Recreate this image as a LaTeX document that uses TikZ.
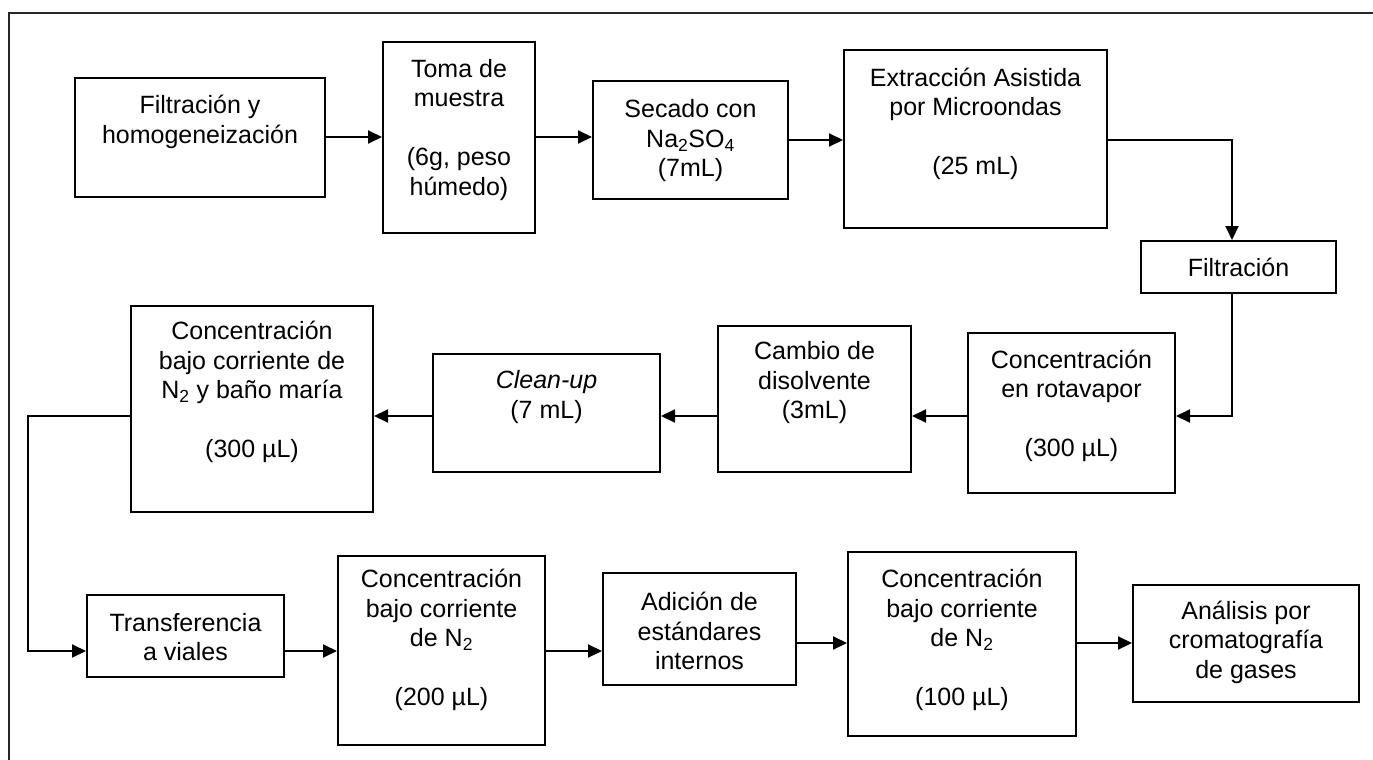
\documentclass[tikz,border=0pt]{standalone}
\usepackage{fontspec}
\setmainfont{Liberation Sans}
\usetikzlibrary{arrows.meta,calc}
\tikzset{
  stagebox/.style={draw=black, line width=2pt, inner sep=0pt, fill=white},
  stagetext/.style={align=center, inner sep=0pt, font=\fontsize{25}{29.5}\selectfont},
  arr/.style={draw=black, line width=2pt, -{Triangle[length=14pt,width=13pt]}},
  frameline/.style={draw=black!85, line width=2.2pt}
}
\begin{document}
\begin{tikzpicture}[x=1pt,y=-1pt]
\useasboundingbox (0,0) rectangle (1373,760);
\fill[white] (0,0) rectangle (1373,760);
\draw[frameline] (9,762) -- (9,13) -- (1375,13);

% boxes
\node[stagebox, minimum width=250pt, minimum height=119pt] (f1) at (200,137.5) {};
\node[stagebox, minimum width=152pt, minimum height=191pt] (toma) at (459,137.5) {};
\node[stagebox, minimum width=195pt, minimum height=118pt] (secado) at (690.5,140) {};
\node[stagebox, minimum width=263pt, minimum height=178pt] (extr) at (975.5,139) {};
\node[stagebox, minimum width=195pt, minimum height=52pt] (filt) at (1238.5,267) {};
\node[stagebox, minimum width=207pt, minimum height=160pt] (rot) at (1071.5,413) {};
\node[stagebox, minimum width=193pt, minimum height=146pt] (cambio) at (814.5,399) {};
\node[stagebox, minimum width=227pt, minimum height=118pt] (clean) at (546.5,413) {};
\node[stagebox, minimum width=242pt, minimum height=206pt] (bano) at (252,409) {};
\node[stagebox, minimum width=197pt, minimum height=82pt] (transf) at (185.5,636) {};
\node[stagebox, minimum width=207pt, minimum height=189pt] (cdos) at (441.5,650.5) {};
\node[stagebox, minimum width=193pt, minimum height=112pt] (adic) at (699.5,629) {};
\node[stagebox, minimum width=228pt, minimum height=184pt] (cuno) at (962,644) {};
\node[stagebox, minimum width=226pt, minimum height=117pt] (anal) at (1246,643.5) {};

% texts
\node[stagetext] (tf1) at (200,122) {Filtración y\\homogeneización};
\node[stagetext] (ttoma) at (459,130) {Toma de\\muestra\\~\\(6g, peso\\húmedo)};
\node[stagetext] (tsecado) at (690.5,141) {Secado con\\Na\textsubscript{2}SO\textsubscript{4}\\(7mL)};
\node[stagetext] (textr) at (975.5,124) {Extracción Asistida\\por Microondas\\~\\(25 mL)};
\node[stagetext] (tfilt) at (1238.5,267) {Filtración};
\node[stagetext] (trot) at (1071.5,406) {Concentración\\en rotavapor\\~\\(300 µL)};
\node[stagetext] (tcambio) at (814.5,383) {Cambio de\\disolvente\\(3mL)};
\node[stagetext] (tclean) at (546.5,397) {\textit{Clean-up}\\(7 mL)};
\node[stagetext] (tbano) at (252,392) {Concentración\\bajo corriente de\\N\textsubscript{2} y baño maría\\~\\(300 µL)};
\node[stagetext] (ttransf) at (185.5,637) {Transferencia\\a viales};
\node[stagetext] (tcdos) at (441.5,640) {Concentración\\bajo corriente\\de N\textsubscript{2}\\~\\(200 µL)};
\node[stagetext] (tadic) at (699.5,631) {Adición de\\estándares\\internos};
\node[stagetext] (tcuno) at (962,640) {Concentración\\bajo corriente\\de N\textsubscript{2}\\~\\(100 µL)};
\node[stagetext] (tanal) at (1246,642) {Análisis por\\cromatografía\\de gases};

% routing coordinates
\coordinate (ya) at (0,137);
\coordinate (yb) at (0,140);
\coordinate (yc) at (0,416);
\coordinate (yd) at (0,651);
\coordinate (ye) at (0,643);
\coordinate (xr) at (1232,0);
\coordinate (xl) at (28,0);

% connectors
\draw[arr] (f1.east |- ya) -- (toma.west |- ya);
\draw[arr] (toma.east |- ya) -- (secado.west |- ya);
\draw[arr] (secado.east |- yb) -- (extr.west |- yb);
\draw[arr] (extr.east |- yb) -| (xr |- filt.north);
\draw[arr] (xr |- filt.south) |- (rot.east |- yc);
\draw[arr] (rot.west |- yc) -- (cambio.east |- yc);
\draw[arr] (cambio.west |- yc) -- (clean.east |- yc);
\draw[arr] (clean.west |- yc) -- (bano.east |- yc);
\draw[arr] (bano.west |- yc) -- (xl |- yc) |- (transf.west |- yd);
\draw[arr] (transf.east |- yd) -- (cdos.west |- yd);
\draw[arr] (cdos.east |- yd) -- (adic.west |- yd);
\draw[arr] (adic.east |- ye) -- (cuno.west |- ye);
\draw[arr] (cuno.east |- ye) -- (anal.west |- ye);
\end{tikzpicture}
\end{document}
